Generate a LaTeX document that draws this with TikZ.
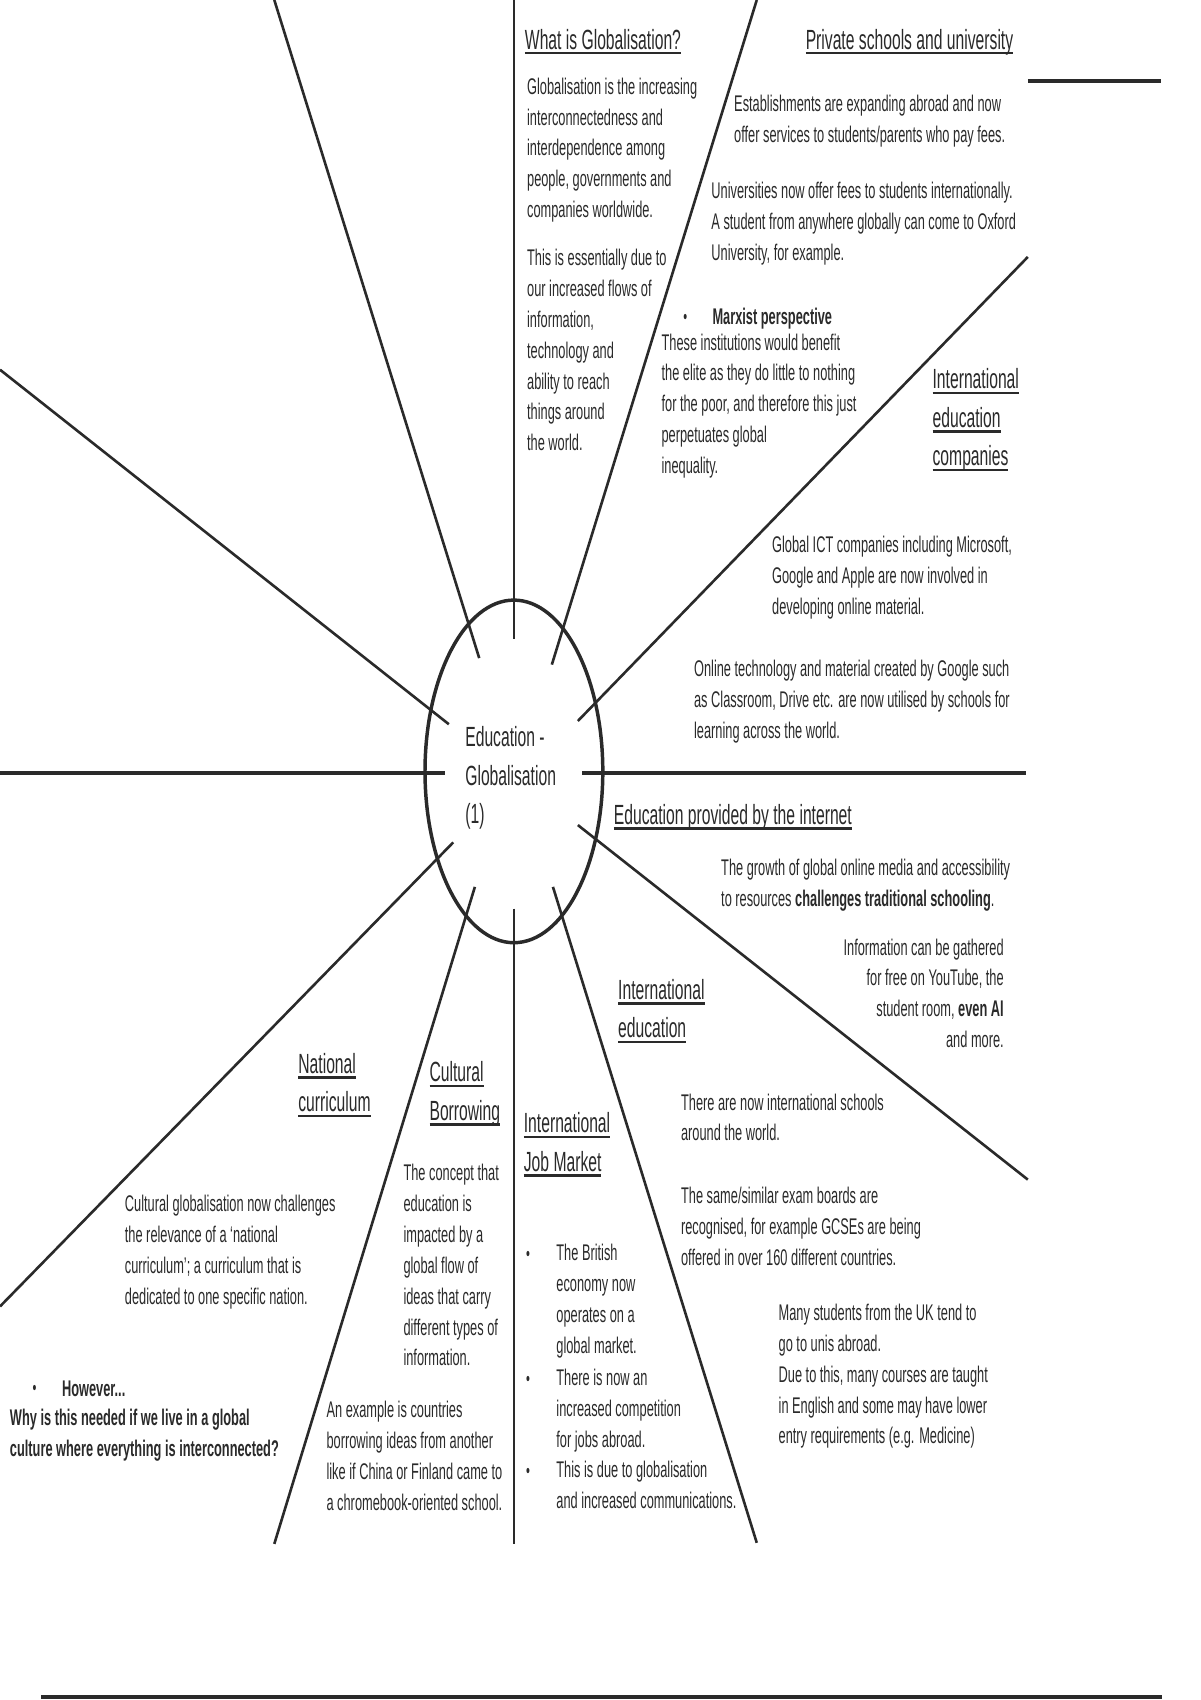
\documentclass[tikz,border=0pt]{standalone}
\usepackage{fontspec}
\setmainfont{Liberation Sans}[FakeStretch=0.565]
\usetikzlibrary{shapes.geometric}
\definecolor{ink}{HTML}{2A2A2A}
\newsavebox{\hulbox}
\newcommand{\hul}[1]{\sbox{\hulbox}{#1}\leavevmode\rlap{\rule[-5pt]{\wd\hulbox}{2.2pt}}\usebox{\hulbox}}
\tikzset{
  x=1pt, y=1pt,
  spoke/.style={draw=ink, line width=2.4pt},
  thickline/.style={draw=ink, line width=3.4pt},
  body/.style={font=\fontsize{20.9}{28.5}\selectfont, text=ink, inner sep=0pt, anchor=north west, yshift=14.5pt, align=left, execute at begin node={\rule{0pt}{17pt}}},
  bodyb/.style={body, font=\fontsize{20.9}{28.5}\selectfont\bfseries},
  bodyr/.style={body, anchor=north east, align=right},
  head/.style={font=\fontsize{25.6}{35.5}\selectfont, text=ink, inner sep=0pt, anchor=north west, yshift=20pt, align=left, execute at begin node={\rule{0pt}{20pt}}},
  bul/.style={font=\fontsize{18}{18}\selectfont, text=ink, inner sep=0pt, anchor=base west}
}
\begin{document}
\begin{tikzpicture}
\useasboundingbox[fill=white] (0,0) rectangle (1107,-1568);
% spoke end coordinates
\coordinate (tvO) at (474,0);      \coordinate (tvI) at (474,-589);
\coordinate (ulsO) at (253,0);     \coordinate (ulsI) at (442,-607);
\coordinate (ulhO) at (0,-341);    \coordinate (ulhI) at (414,-668);
\coordinate (lhO) at (0,-713);     \coordinate (lhI) at (410,-713);
\coordinate (rhI) at (537,-713);   \coordinate (rhO) at (946,-713);
\coordinate (ursO) at (698,0);     \coordinate (ursI) at (509,-613);
\coordinate (urhO) at (948,-237);  \coordinate (urhI) at (533,-665);
\coordinate (lrhI) at (533,-761);  \coordinate (lrhO) at (948,-1088);
\coordinate (lrsI) at (510,-818);  \coordinate (lrsO) at (698,-1423);
\coordinate (bvI) at (474,-838);   \coordinate (bvO) at (474,-1424);
\coordinate (llsI) at (438,-818);  \coordinate (llsO) at (253,-1424);
\coordinate (llhI) at (418,-777);  \coordinate (llhO) at (0,-1205);
\coordinate (trA) at (948,-75);    \coordinate (trB) at (1071,-75);
\coordinate (btA) at (38,-1565);   \coordinate (btB) at (1072,-1565);

\draw[spoke] (tvO) -- (tvI);
\draw[spoke] (ulsO) -- (ulsI);
\draw[spoke] (ulhO) -- (ulhI);
\draw[thickline] (lhO) -- (lhI);
\draw[thickline] (rhI) -- (rhO);
\draw[spoke] (ursO) -- (ursI);
\draw[spoke] (urhO) -- (urhI);
\draw[spoke] (lrhI) -- (lrhO);
\draw[spoke] (lrsI) -- (lrsO);
\draw[spoke] (bvI) -- (bvO);
\draw[spoke] (llsI) -- (llsO);
\draw[spoke] (llhI) -- (llhO);
\draw[thickline] (trA) -- (trB);
\draw[thickline] (btA) -- (btB);

% hub
\node[draw=ink, line width=3.2pt, ellipse, minimum width=164pt, minimum height=316pt, inner sep=0pt] (hub) at (474,-711.5) {};
\node[head] (hubtext) at (429,-690) {Education -\\Globalisation\\(1)};

% top centre
\node[head] (whatis) at (484,-45) {\hul{What is Globalisation?}};
\node[body] (def) at (486,-86) {Globalisation is the increasing\\interconnectedness and\\interdependence among\\people, governments and\\companies worldwide.};
\node[body] (due) at (486,-244) {This is essentially due to\\our increased flows of\\information,\\technology and\\ability to reach\\things around\\the world.};

% top right
\node[head] (private) at (743,-45) {\hul{Private schools and university}};
\node[body] (estab) at (677,-102) {Establishments are expanding abroad and now\\offer services to students/parents who pay fees.};
\node[body] (univ) at (656,-182) {Universities now offer fees to students internationally.\\A student from anywhere globally can come to Oxford\\University, for example.};
\node[bul] (b1) at (630,-298) {•};
\node[bodyb] (marx) at (657,-297) {Marxist perspective};
\node[body] (elite) at (610,-322) {These institutions would benefit\\the elite as they do little to nothing\\for the poor, and therefore this just\\perpetuates global\\inequality.};
\node[head] (intcomp) at (860,-360) {\hul{International}\\\hul{education}\\\hul{companies}};
\node[body] (ict) at (712,-509) {Global ICT companies including Microsoft,\\Google and Apple are now involved in\\developing online material.};
\node[body] (online) at (640,-623) {Online technology and material created by Google such\\as Classroom, Drive etc. are now utilised by schools for\\learning across the world.};

% right middle
\node[head] (internet) at (566,-760) {\hul{Education provided by the internet}};
\node[body] (growth) at (665,-807) {The growth of global online media and accessibility\\to resources \textbf{challenges traditional schooling}.};
\node[bodyr] (info) at (926,-880) {Information can be gathered\\for free on YouTube, the\\student room, \textbf{even AI}\\and more.};

% bottom right
\node[head] (inted) at (570,-923) {\hul{International}\\\hul{education}};
\node[body] (schools) at (628,-1023) {There are now international schools\\around the world.};
\node[body] (boards) at (628,-1109) {The same/similar exam boards are\\recognised, for example GCSEs are being\\offered in over 160 different countries.};
\node[body] (uk) at (718,-1217) {Many students from the UK tend to\\go to unis abroad.\\Due to this, many courses are taught\\in English and some may have lower\\entry requirements (e.g. Medicine)};

% bottom
\node[head] (natcur) at (275,-991) {\hul{National}\\\hul{curriculum}};
\node[head] (culbor) at (396,-999) {\hul{Cultural}\\\hul{Borrowing}};
\node[head] (jobm) at (483,-1046) {\hul{International}\\\hul{Job Market}};
\node[body] (culglob) at (115,-1117) {Cultural globalisation now challenges\\the relevance of a ‘national\\curriculum’; a curriculum that is\\dedicated to one specific nation.};
\node[bul] (b2) at (30,-1286) {•};
\node[bodyb] (however) at (57,-1285) {However...};
\node[bodyb] (why) at (9,-1314) {Why is this needed if we live in a global\\culture where everything is interconnected?};
\node[body] (concept) at (372,-1088) {The concept that\\education is\\impacted by a\\global flow of\\ideas that carry\\different types of\\information.};
\node[body] (example) at (301,-1307) {An example is countries\\borrowing ideas from another\\like if China or Finland came to\\a chromebook-oriented school.};
\node[bul] (b3) at (485,-1163) {•};
\node[body] (brit) at (513,-1162) {The British\\economy now\\operates on a\\global market.};
\node[bul] (b4) at (485,-1278) {•};
\node[body] (comp) at (513,-1277) {There is now an\\increased competition\\for jobs abroad.};
\node[bul] (b5) at (485,-1363) {•};
\node[body] (due2) at (513,-1362) {This is due to globalisation\\and increased communications.};
\end{tikzpicture}
\end{document}
